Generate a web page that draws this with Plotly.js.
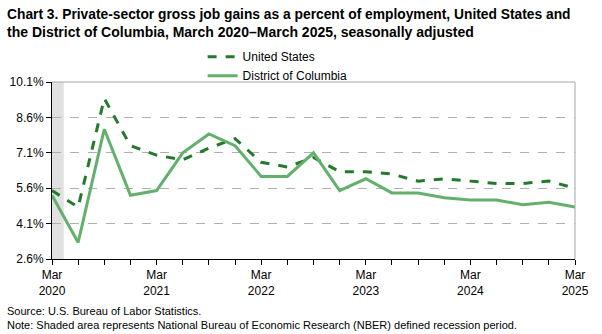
<!DOCTYPE html>
<html><head><meta charset="utf-8">
<script src="https://cdn.plot.ly/plotly-3.0.1.min.js"></script>
<style>body{margin:0;padding:0;background:#fff}#chart{width:602px;height:334px}</style>
</head><body><div id="chart"></div>
<script>
var quarters = ["Mar 2020","Jun 2020","Sep 2020","Dec 2020","Mar 2021","Jun 2021","Sep 2021","Dec 2021","Mar 2022","Jun 2022","Sep 2022","Dec 2022","Mar 2023","Jun 2023","Sep 2023","Dec 2023","Mar 2024","Jun 2024","Sep 2024","Dec 2024","Mar 2025"];
var unitedStates = [5.5,4.8,9.4,7.4,7.0,6.8,7.3,7.7,6.7,6.5,6.9,6.3,6.3,6.2,5.9,6.0,5.9,5.8,5.8,5.9,5.6];
var districtOfColumbia = [5.3,3.3,8.1,5.3,5.5,7.1,7.9,7.4,6.1,6.1,7.1,5.5,6.0,5.4,5.4,5.2,5.1,5.1,4.9,5.0,4.8];
var yTicks = [2.6,4.1,5.6,7.1,8.6,10.1];
var recession = {start: "Mar 2020", endOffset: 0.45};
var titleLines = ["Chart 3. Private-sector gross job gains as a percent of employment, United States and",
                  "the District of Columbia, March 2020–March 2025, seasonally adjusted"];
var notes = ["Source: U.S. Bureau of Labor Statistics.",
             "Note: Shaded area represents National Bureau of Economic Research (NBER) defined recession period."];

var idx = quarters.map(function(_, i){ return i; });
var tickText = quarters.map(function(q, i){
  var p = q.split(" ");
  return (i % 4 === 0) ? p[0] + "<br>" + p[1] : "";
});
var rs = quarters.indexOf(recession.start);

var traces = [
  {x: idx, y: unitedStates, name: "United States", type: "scatter", mode: "lines",
   line: {color: "#237a2c", width: 3, dash: "dash"}},
  {x: idx, y: districtOfColumbia, name: "District of Columbia", type: "scatter", mode: "lines",
   line: {color: "#63b06c", width: 3}}
];

var annos = [
  {text: "<b>" + titleLines[0] + "</b>", xref: "paper", yref: "paper", x: -0.09, xanchor: "left",
   y: 1.384, yanchor: "middle", showarrow: false, font: {size: 13.8}, align: "left"},
  {text: "<b>" + titleLines[1] + "</b>", xref: "paper", yref: "paper", x: -0.09, xanchor: "left",
   y: 1.282, yanchor: "middle", showarrow: false, font: {size: 14}, align: "left"},
  {text: notes[0], xref: "paper", yref: "paper", x: -0.09, xanchor: "left",
   y: -0.294, yanchor: "middle", showarrow: false, font: {size: 11}, align: "left"},
  {text: notes[1], xref: "paper", yref: "paper", x: -0.09, xanchor: "left",
   y: -0.373, yanchor: "middle", showarrow: false, font: {size: 11}, align: "left"}
];

var layout = {
  width: 602, height: 334,
  margin: {l: 52, r: 27, t: 82, b: 75},
  paper_bgcolor: "#fff", plot_bgcolor: "#fff",
  font: {family: "Liberation Sans, Arial, sans-serif", color: "#000", size: 12},
  showlegend: true,
  legend: {x: 0.288, xanchor: "left", y: 1.225, yanchor: "top", orientation: "v",
    font: {size: 12}, bgcolor: "rgba(0,0,0,0)", tracegroupgap: 0},
  xaxis: {range: [0, idx.length - 1], tickmode: "array", tickvals: idx, ticktext: tickText,
    ticks: "outside", ticklen: 5, tickcolor: "#000", showgrid: false, zeroline: false,
    showline: true, linecolor: "#000", linewidth: 1, tickfont: {size: 12}, fixedrange: true, automargin: false},
  yaxis: {range: [yTicks[0], yTicks[yTicks.length - 1]], tickmode: "array", tickvals: yTicks,
    ticktext: yTicks.map(function(v){ return v.toFixed(1) + "%"; }),
    ticks: "outside", ticklen: 5, tickcolor: "#000", showgrid: true, gridcolor: "#b0b0b0",
    griddash: "dash", gridwidth: 1, zeroline: false, showline: true, linecolor: "#000",
    linewidth: 1, tickfont: {size: 12}, fixedrange: true, automargin: false},
  shapes: [
    {type: "rect", xref: "x", yref: "paper", x0: rs, x1: rs + recession.endOffset, y0: 0, y1: 1,
     fillcolor: "#e1e1e1", line: {width: 0}, layer: "below"},
    {type: "line", xref: "paper", yref: "paper", x0: 0, x1: 1, y0: 1, y1: 1, line: {color: "#a6a6a6", width: 1}},
    {type: "line", xref: "paper", yref: "paper", x0: 1, x1: 1, y0: 0, y1: 1, line: {color: "#a6a6a6", width: 1}}
  ],
  annotations: annos
};
Plotly.newPlot("chart", traces, layout, {displayModeBar: false, staticPlot: true});
</script></body></html>
